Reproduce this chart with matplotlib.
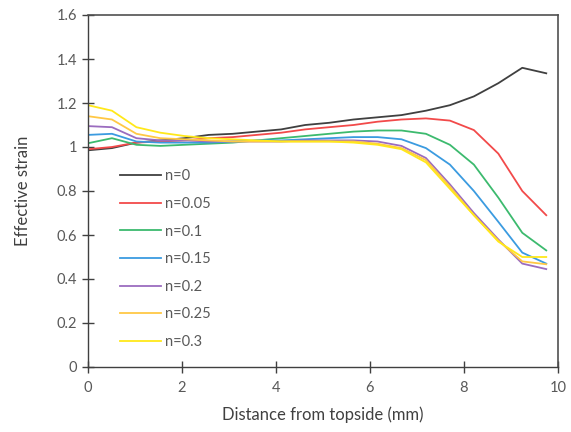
import matplotlib
matplotlib.use("Agg")
import matplotlib.pyplot as plt
from matplotlib.ticker import FuncFormatter

distance = [0, 0.51, 1.03, 1.54, 2.05, 2.57, 3.08, 3.59, 4.11, 4.62,
            5.13, 5.65, 6.16, 6.67, 7.19, 7.70, 8.21, 8.73, 9.24, 9.75]

n0 = [0.985, 0.995, 1.02, 1.03, 1.04, 1.055, 1.06, 1.07, 1.08, 1.10,
      1.11, 1.125, 1.135, 1.145, 1.165, 1.19, 1.23, 1.29, 1.36, 1.335]
n005 = [0.99, 1.0, 1.02, 1.025, 1.03, 1.04, 1.045, 1.055, 1.065, 1.08,
        1.09, 1.10, 1.115, 1.125, 1.13, 1.12, 1.077, 0.97, 0.80, 0.69]
n01 = [1.017, 1.04, 1.01, 1.005, 1.01, 1.015, 1.02, 1.03, 1.04, 1.05,
       1.06, 1.07, 1.075, 1.075, 1.06, 1.01, 0.92, 0.77, 0.61, 0.53]
n015 = [1.055, 1.06, 1.025, 1.02, 1.02, 1.02, 1.025, 1.03, 1.03, 1.035,
        1.04, 1.045, 1.045, 1.035, 0.995, 0.92, 0.80, 0.66, 0.52, 0.47]
n02 = [1.095, 1.09, 1.04, 1.03, 1.03, 1.025, 1.025, 1.025, 1.025, 1.03,
       1.03, 1.03, 1.025, 1.005, 0.95, 0.83, 0.70, 0.58, 0.47, 0.445]
n025 = [1.14, 1.125, 1.06, 1.04, 1.035, 1.03, 1.025, 1.025, 1.025, 1.025,
        1.025, 1.025, 1.015, 0.995, 0.94, 0.82, 0.69, 0.575, 0.48, 0.467]
n03 = [1.19, 1.165, 1.09, 1.065, 1.05, 1.04, 1.035, 1.03, 1.025, 1.025,
       1.025, 1.02, 1.01, 0.99, 0.93, 0.81, 0.69, 0.57, 0.50, 0.50]

series = [n0, n005, n01, n015, n02, n025, n03]
labels = ["n=0", "n=0.05", "n=0.1", "n=0.15", "n=0.2", "n=0.25", "n=0.3"]
colors = ["#404040", "#f24a4a", "#3cba6e", "#3b9be0", "#9b6cbf", "#ffc845", "#ffe81a"]

x_ticks = [0, 2, 4, 6, 8, 10]
y_ticks = [0, 0.2, 0.4, 0.6, 0.8, 1.0, 1.2, 1.4, 1.6]

plt.rcParams['font.family'] = ['Lato', 'DejaVu Sans']

fig = plt.figure(figsize=(5.71, 4.32), dpi=100)
ax = fig.add_axes([88/571, 65/432, 470/571, 352/432])

for ys, lab, c in zip(series, labels, colors):
    ax.plot(distance, ys, color=c, lw=1.3, label=lab)

ax.set_xlim(0, 10)
ax.set_ylim(0, 1.6)
ax.set_xticks(x_ticks)
ax.set_yticks(y_ticks)
ax.yaxis.set_major_formatter(FuncFormatter(lambda v, p: f"{v:g}"))
ax.tick_params(direction='inout', length=8, width=1, colors='#404040',
               labelcolor='#595959', labelsize=10.5)
ax.tick_params(axis='x', pad=6)
ax.tick_params(axis='y', pad=4)
for s in ['left', 'bottom']:
    ax.spines[s].set_color('#404040')
    ax.spines[s].set_linewidth(1.0)
for s in ['top', 'right']:
    ax.spines[s].set_color('#505050')
    ax.spines[s].set_linewidth(1.2)

ax.set_xlabel("Distance from topside (mm)", fontsize=12, color='#404040', labelpad=8)
ax.set_ylabel("Effective strain", fontsize=12, color='#404040', labelpad=18)

leg = ax.legend(loc='upper left', bbox_to_anchor=(0.055, 0.578), frameon=False,
                fontsize=10.5, handlelength=2.8, handletextpad=0.3,
                labelspacing=0.93, borderaxespad=0)
for t in leg.get_texts():
    t.set_color('#595959')

fig.savefig("out.png", dpi=100)
